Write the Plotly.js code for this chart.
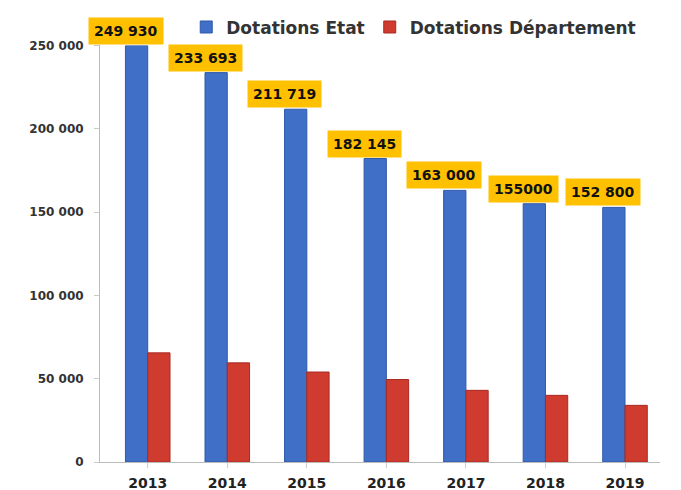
<!DOCTYPE html>
<html>
<head>
<meta charset="utf-8">
<script src="https://cdn.plot.ly/plotly-3.0.1.min.js"></script>
<style>html,body{margin:0;padding:0;background:#fff;}#chart{width:681px;height:490px;}</style>
</head>
<body>
<div id="chart"></div>
<script>
const years = ["2013", "2014", "2015", "2016", "2017", "2018", "2019"];
const etat = [249930, 233693, 211719, 182145, 163000, 155000, 152800];
const departement = [65500, 59500, 54000, 49500, 43000, 40000, 34000];
const etatLabels = ["249 930", "233 693", "211 719", "182 145", "163 000", "155000", "152 800"];
const seriesNames = ["Dotations Etat", "Dotations Département"];

const FONT = "DejaVu Sans, Verdana, sans-serif";
const idx = years.map((_, i) => i);

const traces = [
  {type: "bar", name: seriesNames[0], x: idx, y: etat,
   marker: {color: "#3F6FC6", line: {color: "#2F5AA8", width: 1}}, hoverinfo: "skip"},
  {type: "bar", name: seriesNames[1], x: idx, y: departement,
   marker: {color: "#D03B30", line: {color: "#A82A22", width: 1}}, hoverinfo: "skip"}
];

const annotations = etat.map((v, i) => ({
  x: i - 0.2, y: v, xref: "x", yref: "y",
  text: "<b>" + etatLabels[i] + "</b>",
  showarrow: false, yanchor: "bottom", xanchor: "center", xshift: -6, yshift: 1,
  bgcolor: "#FFC000", borderpad: 5,
  font: {family: FONT, size: 14, color: "#111"}
}));

const layout = {
  width: 681, height: 490,
  margin: {l: 100, r: 21, t: 42, b: 28},
  paper_bgcolor: "#fff", plot_bgcolor: "#fff",
  separators: ", ",
  barmode: "group", bargap: 0.44, bargroupgap: 0,
  showlegend: true,
  legend: {orientation: "h", xref: "paper", x: 0.154, xanchor: "left",
           yref: "container", y: 0.944, yanchor: "middle",
           font: {family: FONT, size: 17, color: "#333", weight: "bold"}, bgcolor: "rgba(0,0,0,0)",
           itemwidth: 30, traceorder: "normal"},
  xaxis: {range: [-0.6, 6.44], tickvals: idx, ticktext: years.map(y => "<b>" + y + "</b>"),
          showgrid: false, zeroline: false, showline: true, linecolor: "#BBBBBB", linewidth: 1,
          ticks: "outside", ticklen: 5, tickcolor: "#CCCCCC", ticklabelstandoff: 3,
          tickfont: {family: FONT, size: 14, color: "#222"}},
  yaxis: {range: [0, 250000], dtick: 50000, tickformat: ",.0f",
          showgrid: false, zeroline: false, showline: true, linecolor: "#BBBBBB", linewidth: 1,
          ticks: "outside", ticklen: 5, tickcolor: "#CCCCCC", ticklabelstandoff: 8,
          tickfont: {family: FONT, size: 12, color: "#333", weight: "bold"}},
  annotations: annotations,
  font: {family: FONT}
};

Plotly.newPlot("chart", traces, layout, {displayModeBar: false, staticPlot: true});
</script>
</body>
</html>
